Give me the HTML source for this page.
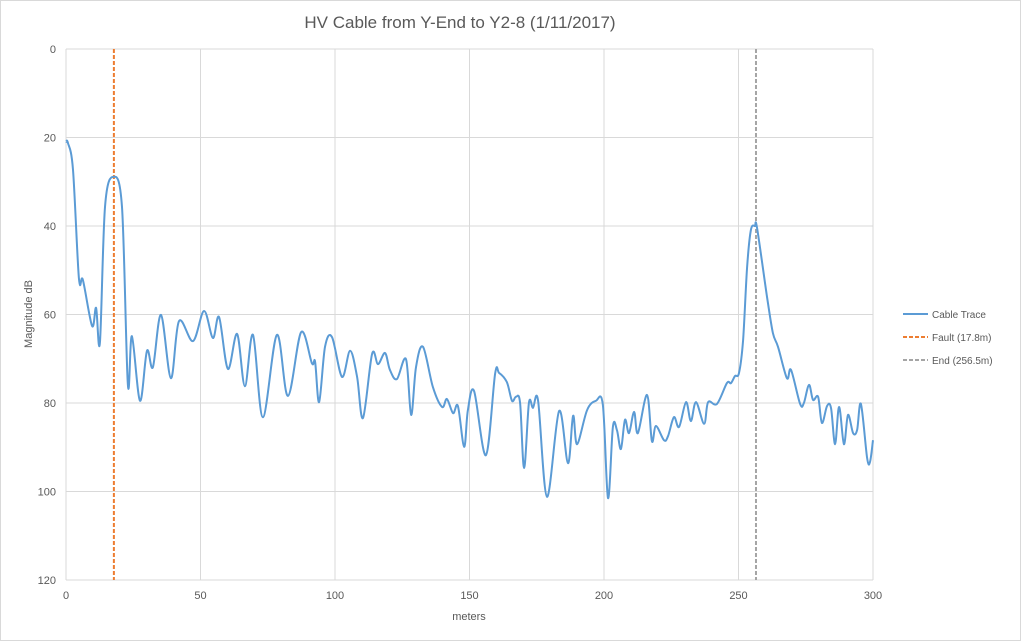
<!DOCTYPE html>
<html><head><meta charset="utf-8"><style>
body{margin:0;background:#fff}
svg{display:block;font-family:"Liberation Sans",sans-serif}
</style></head><body>
<svg id="chart" width="1021" height="641" viewBox="0 0 1021 641">
<rect x="0.5" y="0.5" width="1020" height="640" fill="#fff" stroke="#d9d9d9"/>
<text x="460" y="28" text-anchor="middle" font-size="17" fill="#595959">HV Cable from Y-End to Y2-8 (1/11/2017)</text>
<g id="grid"></g>
<g id="ticks"></g>
<text transform="translate(32,314) rotate(-90)" text-anchor="middle" font-size="11" fill="#595959">Magnitude dB</text>
<text x="469" y="620" text-anchor="middle" font-size="11" fill="#595959">meters</text>
<g id="marks"></g>
<g>
<line x1="903" y1="314" x2="928" y2="314" stroke="#5B9BD5" stroke-width="2"/>
<text x="932" y="318" font-size="10" fill="#595959">Cable Trace</text>
<line x1="903" y1="337" x2="928" y2="337" stroke="#ED7D31" stroke-width="2" stroke-dasharray="4,2"/>
<text x="932" y="341" font-size="10" fill="#595959">Fault (17.8m)</text>
<line x1="903" y1="360" x2="928" y2="360" stroke="#A5A5A5" stroke-width="2" stroke-dasharray="4,2"/>
<text x="932" y="364" font-size="10" fill="#595959">End (256.5m)</text>
</g>
</svg>
<script>
const traceMeters=[0,0.7,2.6,4.8,6.3,9.7,11.2,12.6,14.5,17.5,20.8,23.0,24.5,27.5,30.1,32.3,35.3,39.0,42.0,47.2,51.3,54.6,56.9,60.2,63.6,66.5,69.5,73.2,78.4,82.5,87.4,91.4,92.6,94.1,96.3,98.9,102.6,105.6,108.2,110.4,113.8,116.0,118.6,120.4,123.0,126.4,128.3,130.1,132.7,136.4,139.8,141.6,143.9,145.7,148.0,149.4,151.7,156.1,159.5,161.0,163.9,165.8,167.3,168.8,170.3,172.1,173.6,175.5,178.8,183.3,186.6,188.5,190.0,193.7,197.0,199.6,201.5,203.3,204.8,206.3,207.8,209.3,211.2,212.6,216.0,217.8,219.3,222.3,223.8,226.0,227.9,230.5,232.3,234.2,237.2,238.7,242.0,245.7,247.2,248.7,250.2,251.7,253.2,254.6,256.1,256.9,260.6,262.8,264.7,268.0,269.5,272.9,274.3,276.2,277.7,279.6,281.0,282.9,284.4,285.9,287.4,289.2,290.7,292.6,294.1,295.5,297.8,298.9,300];
const traceDb=[21.0,21.2,27.3,51.8,52.2,62.6,58.5,66.4,35.7,28.9,35.7,75.9,64.9,79.5,68.2,71.9,60.1,74.4,61.5,66.0,59.2,65.3,60.6,72.3,64.4,76.2,64.6,83.2,64.6,78.4,64.0,71.0,70.7,79.8,67.3,65.1,74.1,68.2,74.1,83.4,68.9,71.2,68.7,72.5,74.6,70.1,82.7,71.9,67.3,76.4,80.9,79.1,82.3,80.7,89.9,81.6,77.3,91.8,73.4,73.2,75.3,79.5,78.6,80.0,94.7,80.0,81.1,79.5,101.2,81.8,93.6,82.9,89.3,81.6,79.5,80.5,101.5,85.4,86.1,90.4,83.8,86.8,82.0,86.8,78.2,88.6,85.2,88.4,87.5,83.2,85.4,79.8,84.1,79.8,84.7,79.8,80.2,75.5,75.5,73.9,73.2,65.8,49.3,40.9,40.0,40.5,56.0,64.2,67.3,74.4,72.5,80.2,80.0,75.9,79.3,78.6,84.5,80.7,81.1,89.3,80.9,89.3,82.7,86.8,86.1,80.2,92.4,93.3,88.4];
const xTicks=[0,50,100,150,200,250,300];
const yTicks=[0,20,40,60,80,100,120];
const faultAt=17.8;
const endAt=256.5;

const X0=66,X1=873,Y0=49,Y1=580;
const xs=v=>X0+(v-0)/(300-0)*(X1-X0);
const ys=v=>Y0+(v-0)/(120-0)*(Y1-Y0);
const NS='http://www.w3.org/2000/svg';
function mk(tag,attrs,parent){const e=document.createElementNS(NS,tag);for(const k in attrs)e.setAttribute(k,attrs[k]);parent.appendChild(e);return e;}
const grid=document.getElementById('grid'),ticks=document.getElementById('ticks'),marks=document.getElementById('marks');
yTicks.forEach(t=>{
  const l=mk('line',{x1:X0,x2:X1,y1:ys(t),y2:ys(t),stroke:'#d9d9d9','stroke-width':1},grid);
  
  
  const tx=mk('text',{x:X0-10,y:ys(t)+4,'text-anchor':'end','font-size':11,fill:'#595959'},ticks);
  tx.textContent=t;
  
  
});
xTicks.forEach(t=>{
  const l=mk('line',{x1:xs(t),x2:xs(t),y1:Y0,y2:Y1,stroke:'#d9d9d9','stroke-width':1},grid);
  
  
  const tx=mk('text',{x:xs(t),y:Y1+19,'text-anchor':'middle','font-size':11,fill:'#595959'},ticks);
  tx.textContent=t;
  
  
});
// smoothed trace (Catmull-Rom)
const P=traceMeters.map((m,i)=>[xs(m),ys(traceDb[i])]);
let d='M'+P[0][0]+','+P[0][1];
for(let i=0;i<P.length-1;i++){
  const p0=P[Math.max(0,i-1)],p1=P[i],p2=P[i+1],p3=P[Math.min(P.length-1,i+2)];
  const t=1/6;
  const c1=[p1[0]+(p2[0]-p0[0])*t,p1[1]+(p2[1]-p0[1])*t];
  const c2=[p2[0]-(p3[0]-p1[0])*t,p2[1]-(p3[1]-p1[1])*t];
  d+=' C'+c1[0].toFixed(1)+','+c1[1].toFixed(1)+' '+c2[0].toFixed(1)+','+c2[1].toFixed(1)+' '+p2[0].toFixed(1)+','+p2[1].toFixed(1);
}
const fl=mk('line',{x1:xs(faultAt),x2:xs(faultAt),y1:Y0,y2:Y1,stroke:'#ED7D31','stroke-width':2,'stroke-dasharray':'4,2'},marks);


const el=mk('line',{x1:xs(endAt),x2:xs(endAt),y1:Y0,y2:Y1,stroke:'#A5A5A5','stroke-width':2,'stroke-dasharray':'4,2'},marks);


const tr=mk('path',{d:d,fill:'none',stroke:'#5B9BD5','stroke-width':2,'stroke-linejoin':'round'},marks);


</script>
</body></html>
